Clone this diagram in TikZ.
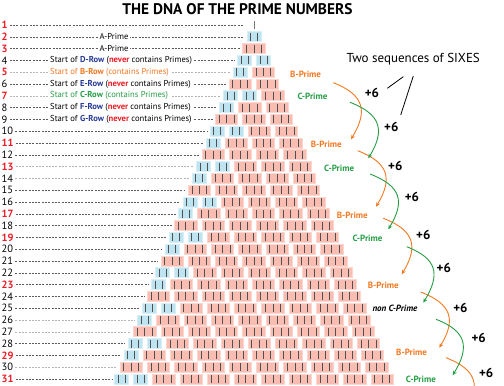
\documentclass[tikz,border=0pt]{standalone}
\usepackage{fontspec}
\setmainfont{PT Sans}
\usetikzlibrary{arrows.meta,calc}

\definecolor{redfill}{RGB}{250,189,177}
\definecolor{redglow}{RGB}{252,214,207}
\definecolor{bluefill}{RGB}{189,228,240}
\definecolor{blueglow}{RGB}{216,239,247}
\definecolor{stickgrey}{RGB}{80,80,80}
\definecolor{leadgrey}{RGB}{90,90,90}
\definecolor{primered}{RGB}{237,28,36}
\definecolor{rownavy}{RGB}{40,58,150}
\definecolor{borange}{RGB}{244,120,32}
\definecolor{cgreen}{RGB}{38,158,70}

\tikzset{
    rowbox/.style={fill=#1fill, draw=#1glow, line width=0.8pt},
    stick/.style={draw=stickgrey, line width=0.9pt},
    lead/.style={line width=0.5pt, dash pattern=on 2pt off 1.3pt},
    rownum/.style={anchor=west, inner sep=0pt},
    rownote/.style={fill=white, inner xsep=2pt, inner ysep=0.5pt, font=\fontsize{8.6}{9.5}\selectfont},
    bprime/.style={anchor=west, inner sep=0pt, text=borange, font=\fontsize{9}{10}\selectfont\bfseries},
    cprime/.style={bprime, text=cgreen},
    plussix/.style={font=\fontsize{13}{14}\selectfont\bfseries},
    barc/.style={->, draw=borange, line width=0.9pt},
    carc/.style={->, draw=cgreen, line width=0.9pt},
}

\begin{document}
\begin{tikzpicture}[x=1pt, y=-1pt, >={Stealth[length=4.5pt,width=4pt]}]
    \useasboundingbox (0,0) rectangle (504,386);
    \clip (0,0) rectangle (504,386);

    % Titel
    \node[font=\fontsize{15.4}{16}\selectfont\bfseries] (title) at (237.5,9.5) {THE DNA OF THE PRIME NUMBERS};

    % Zeile 1: nur ein Strich
    \node[rownum, text=primered, font=\fontsize{10.5}{11}\selectfont\bfseries] (num1) at (1.5,25) {1};
    \coordinate (row1) at (254,25);
    \draw[lead, draw=leadgrey] ([xshift=2pt]num1.east) -- ([xshift=-11pt]row1);
    \draw[stick, draw=stickgrey!80] ([yshift=-4pt]row1) -- ([yshift=4pt]row1);

    % Zeilen 2..31: Bloecke aus Zweien (blau) und Dreien (rot)
    \foreach \n in {2,...,31} {
        \pgfmathsetmacro{\ry}{25+(\n-1)*11.8}
        \pgfmathtruncatemacro{\r}{mod(\n,3)}
        \ifcase\r
            \pgfmathtruncatemacro{\na}{0}\pgfmathtruncatemacro{\nb}{\n/3}
        \or
            \pgfmathtruncatemacro{\na}{2}\pgfmathtruncatemacro{\nb}{(\n-4)/3}
        \or
            \pgfmathtruncatemacro{\na}{1}\pgfmathtruncatemacro{\nb}{(\n-2)/3}
        \fi
        \pgfmathtruncatemacro{\nk}{\na+\nb}
        \pgfmathsetmacro{\rw}{\na*14+\nb*22.3+(\nk-1)*5}
        \pgfmathsetmacro{\rl}{254-\rw/2}
        \coordinate (row\n) at (\rl,\ry);

        % Nummer und Fuehrungslinie
        \pgfmathtruncatemacro{\ip}{isprime(\n)}
        \ifnum\ip=1
            \def\nc{primered}\def\nf{\fontsize{10.5}{11}\selectfont\bfseries}
        \else
            \def\nc{black}\def\nf{\fontsize{10.5}{11}\selectfont}
        \fi
        \gdef\lc{leadgrey}
        \foreach \m in {5,7,13,14,26,27,30} {\ifnum\m=\n \gdef\lc{leadgrey!45}\fi}
        \node[rownum, text=\nc, font=\nf] (num\n) at (1.5,\ry) {\n};
        \draw[lead, draw=\lc] ([xshift=2pt]num\n.east) -- ([xshift=-3pt]row\n);

        % Bloecke
        \foreach \k in {1,...,\nk} {
            \ifnum\k>\na
                \pgfmathsetmacro{\bx}{\rl+\na*19+(\k-\na-1)*27.3}
                \def\bw{22.3}\def\bm{3}\def\bc{red}
            \else
                \pgfmathsetmacro{\bx}{\rl+(\k-1)*19}
                \def\bw{14}\def\bm{2}\def\bc{blue}
            \fi
            \path[rowbox=\bc] (\bx,\ry-5) rectangle ++(\bw,10);
            \foreach \i in {1,...,\bm}
                \draw[stick] ({\bx+(\i-0.5)*\bw/\bm},\ry-4) -- ++(0,8);
        }
    }

    % Beschriftungen links
    \node[rownote] (aprime2) at (114,36.8) {A-Prime};
    \node[rownote] (aprime3) at (114,48.6) {A-Prime};
    \node[rownote, anchor=west] (drow) at (48,60.4) {Start of \textbf{\color{rownavy}D-Row} (\textbf{\color{primered}never} contains Primes)};
    \node[rownote, anchor=west, text=borange] (brow) at (48,72.2) {Start of \textbf{B-Row} (contains Primes)};
    \node[rownote, anchor=west] (erow) at (48,84) {Start of \textbf{\color{rownavy}E-Row} (\textbf{\color{primered}never} contains Primes)};
    \node[rownote, anchor=west, text=cgreen] (crow) at (48,95.8) {Start of \textbf{C-Row} (contains Primes)};
    \node[rownote, anchor=west] (frow) at (48,107.6) {Start of \textbf{\color{rownavy}F-Row} (\textbf{\color{primered}never} contains Primes)};
    \node[rownote, anchor=west] (grow) at (48,119.4) {Start of \textbf{\color{rownavy}G-Row} (\textbf{\color{primered}never} contains Primes)};

    % B- und C-Primzahlen rechts
    \node[bprime] (b5)  at (290,74)    {B-Prime};
    \node[cprime] (c7)  at (297.3,96.7) {C-Prime};
    \node[bprime] (b11) at (310.7,144.3) {B-Prime};
    \node[cprime] (c13) at (324,168.7) {C-Prime};
    \node[bprime] (b17) at (336.7,215) {B-Prime};
    \node[cprime] (c19) at (352.3,238.7) {C-Prime};
    \node[bprime] (b23) at (367.7,285) {B-Prime};
    \node[bprime, text=black, font=\fontsize{9}{10}\selectfont\bfseries\itshape] (nc25) at (372.3,308.7) {non C-Prime};
    \node[bprime] (b29) at (396,352.7) {B-Prime};
    \node[cprime] (c31) at (405.7,379) {C-Prime};
    \coordinate (bnext) at (464,414);

    % Boegen (+6)
    \draw[barc] ($(b5.west)+(43.3,8.7)$) .. controls +(31,12) and +(17,-28) .. ($(b11.west)+(40.3,-5)$);
    \draw[barc] ($(b11.west)+(47,6.4)$) .. controls +(31,12) and +(17,-28) .. ($(b17.west)+(39.3,-8.3)$);
    \draw[barc] ($(b17.west)+(46.6,3.3)$) .. controls +(31,12) and +(17,-28) .. ($(b23.west)+(34,-10.7)$);
    \draw[barc] ($(b23.west)+(53,7)$) .. controls +(31,12) and +(17,-28) .. ($(b29.west)+(43.3,-5)$);
    \draw[barc] ($(b29.west)+(50,5)$) .. controls +(31,12) and +(17,-28) .. (bnext);
    \draw[carc] ($(c7.west)+(52.7,5.6)$) .. controls +(31,12) and +(17,-28) .. ($(c13.west)+(44.3,-10.4)$);
    \draw[carc] ($(c13.west)+(46,5.3)$) .. controls +(31,12) and +(17,-28) .. ($(c19.west)+(36,-9.4)$);
    \draw[carc] ($(c19.west)+(54.4,8)$) .. controls +(31,12) and +(17,-28) .. ($(nc25.west)+(51,-6)$);
    \draw[carc] ($(nc25.west)+(63.7,10.6)$) .. controls +(31,12) and +(17,-28) .. ($(c31.west)+(47,-3.7)$);

    \foreach \px/\py [count=\j] in {372/92.7, 391.3/126.7, 395.3/166, 412/197.3, 423.3/235.3,
                                   443.8/267.7, 460.5/308.3, 478.7/338.3, 486.2/373.3}
        \node[plussix] (p\j) at (\px,\py) {+6};

    % Zwei Sechser-Folgen
    \node[font=\fontsize{13}{14}\selectfont] (sixes) at (413.3,59.5) {Two sequences of SIXES};
    \draw[line width=0.8pt] ($(sixes.center)+(-10,17.2)$) -- ($(p1.center)+(15.3,-4.4)$);
    \draw[line width=0.8pt] ($(sixes.center)+(0,16.5)$) -- ($(p2.center)+(9.4,-11.7)$);

\end{tikzpicture}
\end{document}
